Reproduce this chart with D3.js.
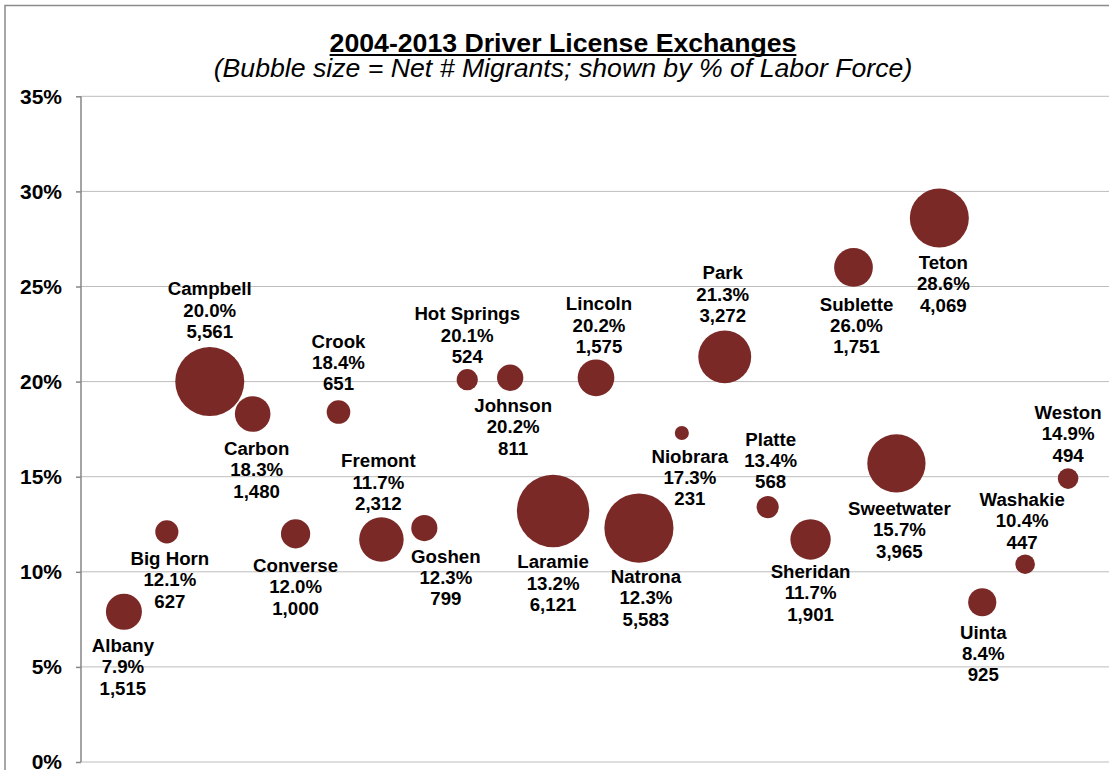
<!DOCTYPE html>
<html>
<head>
<meta charset="utf-8">
<script src="https://cdn.jsdelivr.net/npm/d3@7"></script>
<style>
  html, body { margin: 0; padding: 0; background: #fff; }
  svg { display: block; }
  text { font-family: Arial, "Liberation Sans", Helvetica, sans-serif; }
</style>
</head>
<body>
<svg id="chart" width="1109" height="770"></svg>
<script>
// ---- data ----
const counties = ["Albany","Big Horn","Campbell","Carbon","Converse","Crook","Fremont","Goshen","Hot Springs","Johnson","Laramie","Lincoln","Natrona","Niobrara","Park","Platte","Sheridan","Sublette","Sweetwater","Teton","Uinta","Washakie","Weston"];
const pctLaborForce = [7.9,12.1,20.0,18.3,12.0,18.4,11.7,12.3,20.1,20.2,13.2,20.2,12.3,17.3,21.3,13.4,11.7,26.0,15.7,28.6,8.4,10.4,14.9];
const netMigrants = [1515,627,5561,1480,1000,651,2312,799,524,811,6121,1575,5583,231,3272,568,1901,1751,3965,4069,925,447,494];
const yTicks = [0,5,10,15,20,25,30,35];
const titleText = "2004-2013 Driver License Exchanges";
const subtitleText = "(Bubble size = Net # Migrants; shown by % of Labor Force)";

// ---- label layout (pixel offsets of label block from bubble centre: dx, first-line baseline dy) ----
const labelOffsets = [[-1,40],[3,33],[0,-86.5],[4,41],[0,38],[0,-64.5],[-3,-72],[21.5,34.5],[0,-59.5],[3,34],[0,57.5],[3,-67.3],[7,54.7],[8,29.7],[-2,-77.7],[3,-61.6],[0,38.6],[3,43.2],[3,51.5],[4,51],[1,36.3],[-3,-58.3],[0,-59.7]];

const svg = d3.select("#chart");
const W = 1109, H = 770;
const plotLeft = 81, plotRight = 1111, plotTop = 96.3, plotBottom = 762;
const bubbleColor = "#7b2926";
const labelFont = 18.67, lineH = 21.4;

const x = d3.scaleLinear().domain([0, counties.length + 1]).range([plotLeft, plotRight]);
const y = d3.scaleLinear().domain([0, 35]).range([plotBottom, plotTop]);
const r = d3.scaleSqrt().domain([0, d3.max(netMigrants)]).range([0, 36.2]);

// outer frame
svg.append("rect").attr("x", 5).attr("y", 5.5).attr("width", W + 10).attr("height", H + 10)
  .attr("fill", "none").attr("stroke", "#8a8a8a").attr("stroke-width", 1.5);

// gridlines
svg.append("g").selectAll("line").data(yTicks).join("line")
  .attr("x1", plotLeft).attr("x2", W)
  .attr("y1", d => y(d)).attr("y2", d => y(d))
  .attr("stroke", "#bdbdbd").attr("stroke-width", 1);

// y axis
const yAxis = d3.axisLeft(y).tickValues(yTicks).tickSize(5).tickPadding(14).tickFormat(d => d + "%");
const ga = svg.append("g").attr("transform", `translate(${plotLeft},0)`).call(yAxis);
ga.select(".domain").attr("stroke", "#868686").attr("stroke-width", 1.5).attr("d", `M0,${plotTop}V${plotBottom}`);
ga.selectAll(".tick line").attr("stroke", "#868686").attr("stroke-width", 1.5);
ga.selectAll(".tick text").attr("fill", "#000").style("font-size", "21px").style("font-weight", "bold")
  .style("font-family", 'Arial, "Liberation Sans", sans-serif');

// title
const t = svg.append("text").attr("x", 563).attr("y", 51.5).attr("text-anchor", "middle")
  .style("font-size", "26.67px").style("font-weight", "bold").text(titleText);
const tw = t.node().getComputedTextLength();
svg.append("line").attr("x1", 563 - tw / 2).attr("x2", 563 + tw / 2).attr("y1", 55).attr("y2", 55)
  .attr("stroke", "#000").attr("stroke-width", 2);
svg.append("text").attr("x", 563).attr("y", 77.4).attr("text-anchor", "middle")
  .style("font-size", "26.67px").style("font-style", "italic").text(subtitleText);

// bubbles
const data = counties.map((c, i) => ({ name: c, pct: pctLaborForce[i], n: netMigrants[i], i: i + 1, off: labelOffsets[i] }));
svg.append("g").selectAll("circle").data(data).join("circle")
  .attr("cx", d => x(d.i)).attr("cy", d => y(d.pct)).attr("r", d => r(d.n))
  .attr("fill", bubbleColor);

// labels
const fmt = d3.format(",");
const lg = svg.append("g");
data.forEach(d => {
  const tx = x(d.i) + d.off[0];
  const ty = y(d.pct) + d.off[1];
  const txt = lg.append("text").attr("x", tx).attr("y", ty).attr("text-anchor", "middle")
    .style("font-size", labelFont + "px").style("font-weight", "bold").attr("fill", "#000");
  [d.name, d.pct.toFixed(1) + "%", fmt(d.n)].forEach((s, k) => {
    txt.append("tspan").attr("x", tx).attr("y", ty + k * lineH).text(s);
  });
});
</script>
</body>
</html>
